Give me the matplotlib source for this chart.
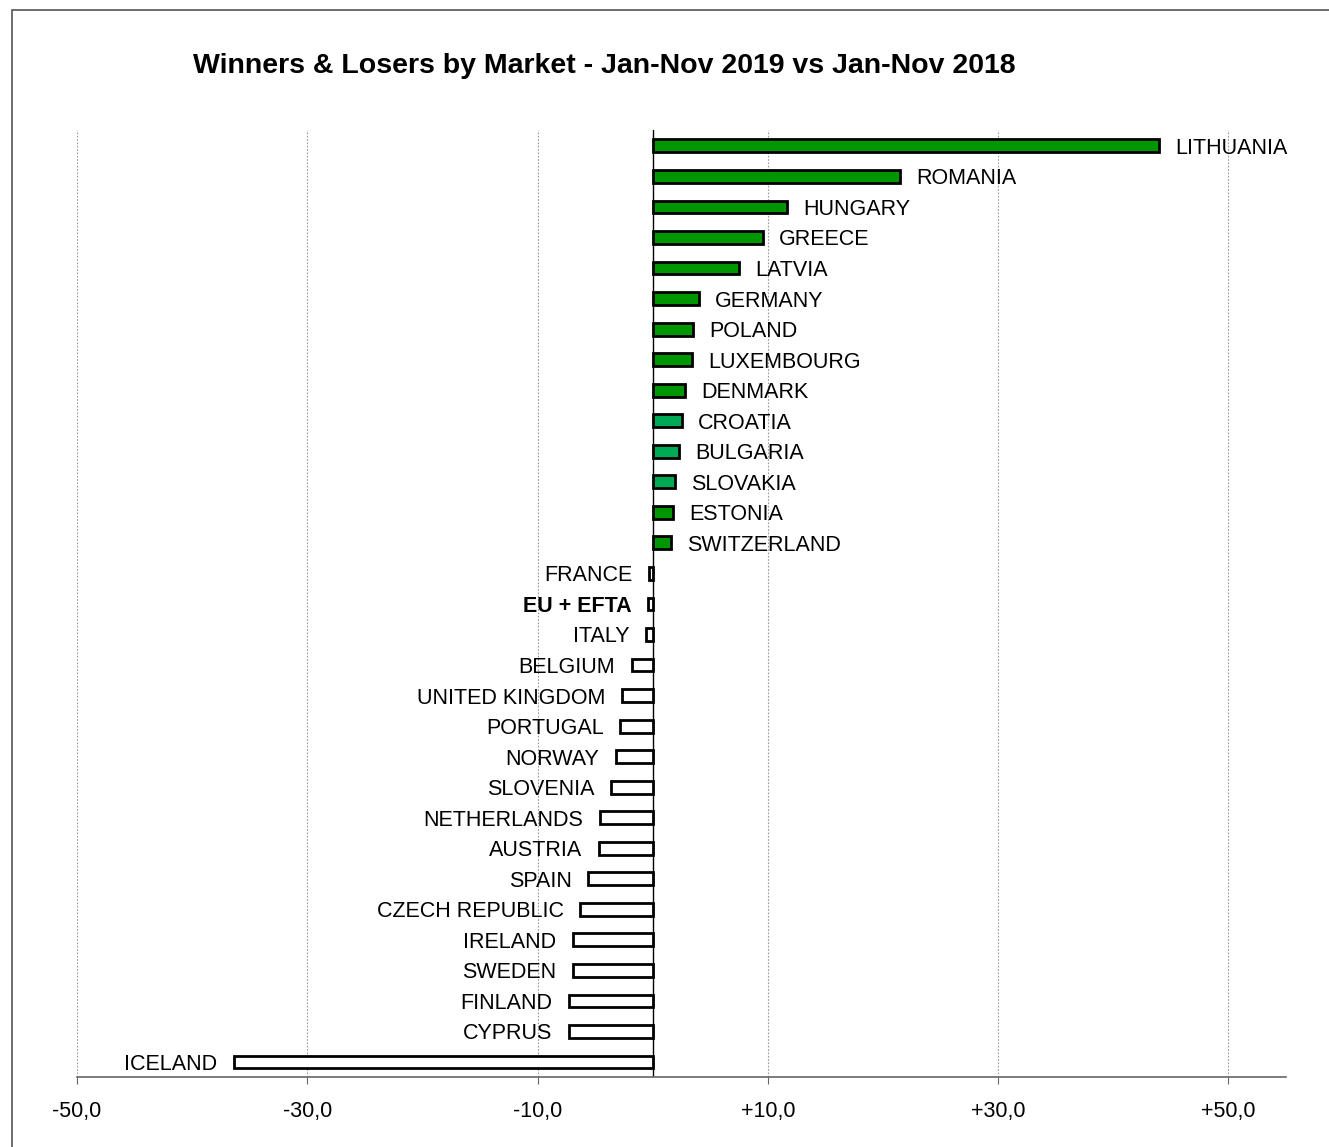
import matplotlib
matplotlib.use("Agg")
import matplotlib.pyplot as plt
from matplotlib.patches import Rectangle

countries = ["LITHUANIA", "ROMANIA", "HUNGARY", "GREECE", "LATVIA", "GERMANY",
             "POLAND", "LUXEMBOURG", "DENMARK", "CROATIA", "BULGARIA", "SLOVAKIA",
             "ESTONIA", "SWITZERLAND", "FRANCE", "EU + EFTA", "ITALY", "BELGIUM",
             "UNITED KINGDOM", "PORTUGAL", "NORWAY", "SLOVENIA", "NETHERLANDS",
             "AUSTRIA", "SPAIN", "CZECH REPUBLIC", "IRELAND", "SWEDEN", "FINLAND",
             "CYPRUS", "ICELAND"]
values = [44.0, 21.5, 11.7, 9.6, 7.5, 4.0, 3.5, 3.4, 2.8, 2.5, 2.3, 1.9, 1.8, 1.6,
          -0.3, -0.4, -0.6, -1.8, -2.7, -2.8, -3.2, -3.6, -4.6, -4.7, -5.6, -6.3,
          -6.9, -6.9, -7.3, -7.3, -36.4]
light_green = {"CROATIA", "BULGARIA", "SLOVAKIA"}
xticks = [-50, -30, -10, 10, 30, 50]
xtick_labels = ["-50,0", "-30,0", "-10,0", "+10,0", "+30,0", "+50,0"]

FONT = "Liberation Sans"
plt.rcParams["font.family"] = [FONT, "DejaVu Sans"]

fig = plt.figure(figsize=(13.29, 11.47), dpi=100)
fig.patches.append(Rectangle((12 / 1329, -0.05), 1.2, (1147 - 10) / 1147 + 0.05,
                             transform=fig.transFigure, fill=False,
                             edgecolor="#555555", linewidth=1.2))
ax = fig.add_axes([77 / 1329, (1147 - 1077) / 1147, (1286 - 77) / 1329, (1077 - 130) / 1147])

n = len(countries)
ypos = [n - 1 - i for i in range(n)]
colors = []
for c, v in zip(countries, values):
    if v < 0:
        colors.append("white")
    elif c in light_green:
        colors.append("#00AA55")
    else:
        colors.append("#009600")

ax.barh(ypos, values, height=0.42, color=colors, edgecolor="black", linewidth=2.0, zorder=3)

for y, c, v in zip(ypos, countries, values):
    weight = "bold" if c == "EU + EFTA" else "normal"
    if v >= 0:
        ax.annotate(c, (v, y), xytext=(11.5, 0), textcoords="offset points",
                    ha="left", va="center_baseline", fontsize=15.5, fontweight=weight, zorder=4)
    else:
        ax.annotate(c, (v, y), xytext=(-12, 0), textcoords="offset points",
                    ha="right", va="center_baseline", fontsize=15.5, fontweight=weight, zorder=4)

ax.set_xlim(-50, 55)
ax.set_ylim(-0.49, n - 0.48)
ax.set_xticks(xticks)
ax.set_xticklabels(xtick_labels, fontsize=15.5)
ax.set_yticks([])
ax.grid(axis="x", color="#999999", linestyle=(0, (1.5, 1.5)), linewidth=0.8, zorder=0)
ax.axvline(0, color="black", linewidth=1.0, zorder=2)
for s in ["left", "top", "right"]:
    ax.spines[s].set_visible(False)
ax.spines["bottom"].set_color("#666666")
ax.spines["bottom"].set_linewidth(1.2)
ax.tick_params(axis="x", length=5, color="#666666", pad=12)

fig.text(604 / 1329, 1 - 66 / 1147, "Winners & Losers by Market - Jan-Nov 2019 vs Jan-Nov 2018",
         ha="center", va="center", fontsize=20.5, fontweight="bold")

fig.savefig("out.png", dpi=100)
